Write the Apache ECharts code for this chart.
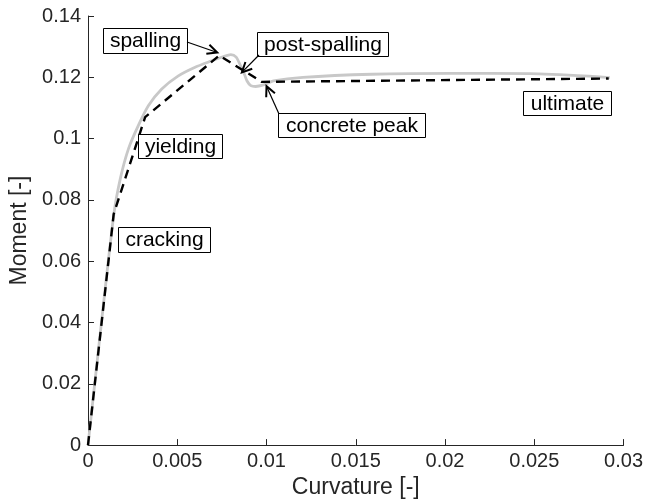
<!DOCTYPE html>
<html>
<head>
<meta charset="utf-8">
<script src="https://cdn.jsdelivr.net/npm/echarts@6/dist/echarts.min.js"></script>
<style>
html,body{margin:0;padding:0;background:#fff;}
#chart{width:646px;height:504px;}
</style>
</head>
<body>
<div id="chart"></div>
<script>
// Fiber-section analysis (gray) and multilinear idealisation (dashed)
const curvatureGray = [0, 0.0007, 0.00145, 0.00182, 0.00228, 0.00283, 0.00339, 0.00413, 0.00504, 0.00597, 0.00689, 0.00760, 0.00800, 0.00830, 0.00855, 0.00873, 0.00891, 0.00912, 0.00939, 0.00983, 0.01039, 0.01204, 0.01591, 0.02033, 0.02475, 0.02807, 0.02923];
const momentGray    = [0, 0.0372, 0.0754, 0.0872, 0.0969, 0.1044, 0.1108, 0.1162, 0.1204, 0.1232, 0.1253, 0.1268, 0.1274, 0.1266, 0.1237, 0.1215, 0.1188, 0.1173, 0.1170, 0.1175, 0.1188, 0.1200, 0.1210, 0.1213, 0.1212, 0.1204, 0.1199];
const curvatureDash = [0, 0.00144, 0.0032, 0.00735, 0.00974, 0.02917];
const momentDash    = [0, 0.0754, 0.107, 0.1271, 0.1185, 0.1196];
const xTicks = [0, 0.005, 0.01, 0.015, 0.02, 0.025, 0.03];
const yTicks = [0, 0.02, 0.04, 0.06, 0.08, 0.1, 0.12, 0.14];
const annotationLabels = ['spalling', 'post-spalling', 'concrete peak', 'ultimate', 'yielding', 'cracking'];

const FONT = 'Liberation Sans, Helvetica, Arial, sans-serif';
const TXT = '#262626';

const chart = echarts.init(document.getElementById('chart'), null, {renderer: 'canvas'});
const fmt = v => String(parseFloat(v.toFixed(4)));

chart.setOption({
  animation: false,
  backgroundColor: '#fff',
  grid: {left: 82, right: 21, top: 16, bottom: 53, containLabel: false},
  xAxis: {
    type: 'value', min: xTicks[0], max: xTicks[xTicks.length - 1], interval: 0.005,
    name: 'Curvature [-]', nameLocation: 'middle', nameGap: 29,
    nameTextStyle: {color: TXT, fontSize: 23, fontFamily: FONT},
    axisLine: {show: true, lineStyle: {color: TXT, width: 1}},
    axisTick: {show: true, inside: true, length: 6, lineStyle: {color: TXT}},
    axisLabel: {color: TXT, fontSize: 20, fontFamily: FONT, margin: 6, formatter: fmt},
    splitLine: {show: false}
  },
  yAxis: {
    type: 'value', min: yTicks[0], max: yTicks[yTicks.length - 1], interval: 0.02,
    name: 'Moment [-]', nameLocation: 'middle', nameGap: 57, nameRotate: 90,
    nameTextStyle: {color: TXT, fontSize: 23, fontFamily: FONT},
    axisLine: {show: true, lineStyle: {color: TXT, width: 1}},
    axisTick: {show: true, inside: true, length: 6, lineStyle: {color: TXT}},
    axisLabel: {color: TXT, fontSize: 20, fontFamily: FONT, margin: 7, formatter: fmt},
    splitLine: {show: false}
  },
  series: [
    {
      type: 'line', name: 'analysis', showSymbol: false, smooth: 0.25,
      data: curvatureGray.map((x, i) => [x, momentGray[i]]),
      lineStyle: {color: '#c8c8c8', width: 2.8}, z: 2
    },
    {
      type: 'line', name: 'idealised', showSymbol: false,
      data: curvatureDash.map((x, i) => [x, momentDash[i]]),
      lineStyle: {color: '#000', width: 2.4, type: [9, 6]}, z: 3
    }
  ]
});

// annotation boxes (pixel layout) and arrows pointing at data locations
const boxes = [
  {x: 103, y: 28, w: 84, h: 25},
  {x: 257, y: 32, w: 131, h: 24},
  {x: 278, y: 113, w: 147, h: 24},
  {x: 523, y: 91, w: 88, h: 24},
  {x: 138, y: 134, w: 84, h: 24},
  {x: 118, y: 227, w: 92, h: 25}
];
const arrows = [
  {from: [187, 42], tip: [0.00724, 0.1281]},
  {from: [259, 55], tip: [0.00862, 0.1216]},
  {from: [279, 114], tip: [0.0100, 0.1171]}
];
const elements = [];
boxes.forEach((b, i) => {
  elements.push({type: 'rect', shape: {x: b.x + 0.5, y: b.y + 0.5, width: b.w, height: b.h},
    style: {fill: '#fff', stroke: '#000', lineWidth: 1}, z: 10});
  elements.push({type: 'text', x: b.x + b.w / 2 + 0.5, y: b.y + b.h / 2 + 1,
    style: {text: annotationLabels[i], fill: '#000', font: '21px ' + FONT, textAlign: 'center', textVerticalAlign: 'middle'}, z: 11});
});
arrows.forEach(a => {
  const t = chart.convertToPixel({gridIndex: 0}, a.tip);
  const dx = t[0] - a.from[0], dy = t[1] - a.from[1];
  const ang = Math.atan2(dy, dx);
  const L = 11, half = 0.45;
  const p1 = [t[0] - L * Math.cos(ang - half), t[1] - L * Math.sin(ang - half)];
  const p2 = [t[0] - L * Math.cos(ang + half), t[1] - L * Math.sin(ang + half)];
  elements.push({type: 'line', shape: {x1: a.from[0], y1: a.from[1], x2: t[0], y2: t[1]},
    style: {stroke: '#000', lineWidth: 1.2}, z: 12});
  elements.push({type: 'polyline', shape: {points: [p1, t, p2]},
    style: {stroke: '#000', lineWidth: 2, fill: null}, z: 12});
});
chart.setOption({graphic: {elements: elements}});
</script>
</body>
</html>
